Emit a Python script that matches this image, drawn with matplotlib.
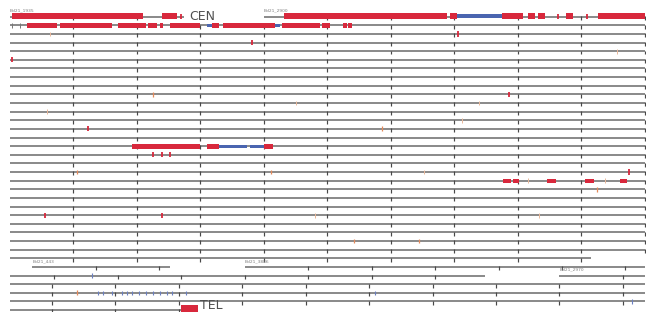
import numpy as np
import matplotlib.pyplot as plt
from matplotlib.patches import Rectangle

# Layout of the wrapped view: each row holds 1 Mb, ticks every 100 kb
ROW_KB = 1000
TICK_KB = 100
N_ROWS = 35

# Contigs: name, global start (kb), length (kb)
contig_names = ['Bd21_1935', 'Bd21_2900', 'Bd21_443', 'Bd21_3886', 'Bd21_2970']
contig_starts = [0, 400, 29035, 29370, 30866]
contig_lengths = [275, 28515, 217, 1378, 3406]

# Blocks: (row, start kb, end kb)
red_blocks = [
    (0, 3, 194), (0, 194, 209), (0, 240, 264),
    (0, 432, 596), (0, 596, 689), (0, 693, 704), (0, 775, 808),
    (0, 816, 827), (0, 832, 843), (0, 877, 888), (0, 926, 964), (0, 965, 1000),
    (1, 27, 74), (1, 79, 160), (1, 170, 215), (1, 217, 231), (1, 236, 241),
    (1, 252, 299), (1, 319, 330), (1, 335, 417), (1, 429, 488), (1, 491, 505),
    (1, 525, 531), (1, 533, 539),
    (15, 193, 299), (15, 310, 330), (15, 401, 414),
    (19, 777, 789), (19, 792, 802), (19, 846, 860), (19, 907, 921), (19, 962, 972),
]
blue_blocks = [
    (0, 704, 775),
    (1, 310, 318), (1, 417, 425),
    (15, 330, 374), (15, 379, 401),
]

# Point marks: (row, position kb, class)
marks = [
    (0, 270, 'red'), (0, 863, 'red'), (0, 910, 'red'),
    (1, 3, 'grey'), (1, 16, 'grey'),
    (2, 63, 'faint'), (2, 706, 'red'),
    (3, 382, 'red'),
    (4, 956, 'faint'),
    (5, 3, 'red'),
    (9, 225, 'orange'), (9, 786, 'red'),
    (10, 451, 'faint'), (10, 739, 'faint'),
    (11, 58, 'faint'),
    (12, 712, 'faint'),
    (13, 123, 'red'), (13, 586, 'orange'),
    (16, 225, 'red'), (16, 239, 'red'), (16, 252, 'red'),
    (18, 105, 'orange'), (18, 412, 'orange'), (18, 652, 'faint'), (18, 975, 'red'),
    (19, 816, 'faint'), (19, 937, 'faint'),
    (20, 925, 'orange'),
    (23, 55, 'red'), (23, 239, 'red'), (23, 481, 'faint'), (23, 833, 'faint'),
    (26, 542, 'orange'), (26, 645, 'orange'),
    (30, 129, 'blue'),
    (32, 105, 'orange'),
    (32, 138, 'blue'), (32, 146, 'blue'), (32, 160, 'blue'), (32, 176, 'blue'),
    (32, 184, 'blue'), (32, 193, 'blue'), (32, 204, 'blue'), (32, 215, 'blue'),
    (32, 225, 'blue'), (32, 236, 'blue'), (32, 247, 'blue'), (32, 256, 'blue'),
    (32, 278, 'blue'), (32, 575, 'blue'),
    (33, 980, 'blue'),
]

# Centromere / telomere
cen_row, cen_kb = 0, 283
tel_row, tel_start, tel_end = 34, 270, 296

RED = '#d8283c'
BLUE = '#4a65b0'
LINE = '#707070'
mark_style = {
    'red': (RED, 1.3, 0.30),
    'orange': ('#e58a5a', 0.9, 0.28),
    'faint': ('#e9b89a', 0.7, 0.28),
    'grey': ('#777777', 0.7, 0.28),
    'blue': ('#6a7fc0', 0.8, 0.25),
}
red_height = {0: 0.8, 1: 0.54, 15: 0.6}
blue_height = {0: 0.42, 1: 0.40, 15: 0.36}


def split_rows(gs, ge):
    # cut a global interval into per-row pieces
    pieces = []
    while gs < ge:
        r = int(gs // ROW_KB)
        e = min(ge, (r + 1) * ROW_KB)
        pieces.append((r, gs - r * ROW_KB, e - r * ROW_KB))
        gs = e
    return pieces


fig = plt.figure(figsize=(6.46, 3.12), dpi=100)
ax = fig.add_axes([0, 0, 1, 1])
px = ROW_KB / 636.0
ax.set_xlim(-10 * px, ROW_KB + 1.5 * px)
ax.set_ylim((312 - 16.7) / 8.63, -16.7 / 8.63)
ax.axis('off')

for name, gs, length in zip(contig_names, contig_starts, contig_lengths):
    ge = gs + length
    for r, s, e in split_rows(gs, ge):
        ax.hlines(r, s, e, color=LINE, lw=1.15, zorder=1)
    ticks = np.arange(gs + TICK_KB, ge + 0.01, TICK_KB)
    for t in ticks:
        r = int((t - 1e-6) // ROW_KB)
        ax.vlines(t - r * ROW_KB, r - 0.08, r + 0.38, color='#484848', lw=0.85, zorder=1)
    r0 = int(gs // ROW_KB)
    ax.text(gs - r0 * ROW_KB, r0 - 0.68, name, fontsize=3.2, color='#808080',
            ha='left', va='center')

for r, s, e in red_blocks:
    h = red_height.get(r, 0.48)
    ax.add_patch(Rectangle((s, r - h / 2 - 0.08 * (r == 0)), e - s, h,
                           facecolor=RED, edgecolor='none', zorder=3))
for r, s, e in blue_blocks:
    h = blue_height.get(r, 0.36)
    ax.add_patch(Rectangle((s, r - h / 2 - 0.08 * (r == 0)), e - s, h,
                           facecolor=BLUE, edgecolor='none', zorder=3))

for r, x, kind in marks:
    c, lw, hh = mark_style[kind]
    ax.vlines(x, r - hh, r + hh, color=c, lw=lw, zorder=2)

ax.text(cen_kb, cen_row, 'CEN', fontsize=9, color='#505050', ha='left', va='center')
ax.add_patch(Rectangle((tel_start, tel_row - 0.55), tel_end - tel_start, 1.2,
                       facecolor=RED, edgecolor='none', zorder=3))
ax.text(tel_end + 4, tel_row + 0.17, 'TEL', fontsize=9, color='#505050',
        ha='left', va='bottom')

fig.savefig('out.png', dpi=100)
